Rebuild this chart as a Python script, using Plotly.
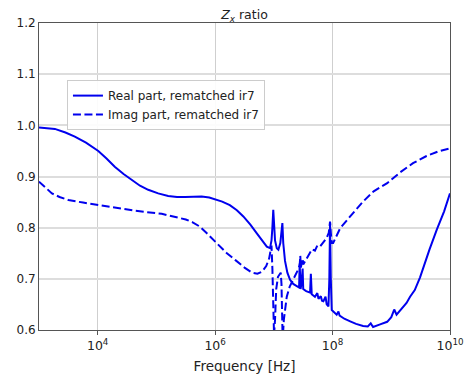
import plotly.graph_objects as go

# Frequencies are given as log10(f / Hz)
real_logf = [3.0, 3.27, 3.45, 3.61, 3.8, 4.01, 4.15, 4.29, 4.44, 4.58, 4.72, 4.86, 5.03, 5.2,
             5.35, 5.49, 5.63, 5.77, 5.9, 6.0, 6.12, 6.25, 6.37, 6.48, 6.6, 6.71, 6.8, 6.88,
             6.935, 6.96, 6.975, 6.99, 7.005, 7.02, 7.05, 7.077, 7.11, 7.13, 7.145, 7.16,
             7.19, 7.23, 7.276, 7.33, 7.39, 7.43, 7.44, 7.455, 7.47, 7.49, 7.50, 7.55, 7.617,
             7.63, 7.645, 7.70, 7.74, 7.76, 7.80, 7.82, 7.843, 7.88, 7.9, 7.93, 7.945, 7.957,
             7.97, 7.986, 8.07, 8.1, 8.12, 8.2, 8.3, 8.4, 8.52, 8.6, 8.65, 8.69, 8.81, 8.93,
             9.0, 9.05, 9.09, 9.18, 9.26, 9.32, 9.4, 9.49, 9.55, 9.65, 9.775, 9.9, 10.0]
real_vals = [0.996, 0.993, 0.986, 0.978, 0.966, 0.950, 0.935, 0.919, 0.905, 0.893, 0.882,
             0.874, 0.867, 0.862, 0.860, 0.860, 0.861, 0.861, 0.859, 0.856, 0.851, 0.844,
             0.834, 0.822, 0.806, 0.789, 0.776, 0.763, 0.760, 0.775, 0.800, 0.835, 0.805,
             0.775, 0.760, 0.757, 0.770, 0.790, 0.809, 0.770, 0.735, 0.712, 0.698, 0.690,
             0.685, 0.683, 0.730, 0.680, 0.690, 0.720, 0.680, 0.676, 0.673, 0.710, 0.670,
             0.665, 0.672, 0.661, 0.666, 0.657, 0.656, 0.665, 0.650, 0.646, 0.700, 0.810,
             0.700, 0.639, 0.630, 0.636, 0.628, 0.622, 0.617, 0.612, 0.608, 0.607, 0.613,
             0.606, 0.611, 0.616, 0.625, 0.640, 0.630, 0.642, 0.653, 0.665, 0.678, 0.703,
             0.725, 0.757, 0.796, 0.832, 0.867]

imag_logf = [3.0, 3.1, 3.22, 3.35, 3.5, 3.75, 4.01, 4.3, 4.64, 5.09, 5.32, 5.5, 5.61, 5.74,
             5.85, 5.97, 6.08, 6.2, 6.34, 6.5, 6.63, 6.72, 6.80, 6.87, 6.92, 6.96, 6.975,
             6.99, 7.003, 7.02, 7.04, 7.07, 7.117, 7.13, 7.14, 7.15, 7.17, 7.22, 7.27, 7.33,
             7.40, 7.44, 7.45, 7.46, 7.49, 7.5, 7.56, 7.617, 7.65, 7.70, 7.74, 7.787, 7.85,
             7.90, 7.935, 7.957, 7.97, 7.986, 8.01, 8.07, 8.13, 8.30, 8.52, 8.7, 8.93, 9.15,
             9.37, 9.6, 9.8, 10.0]
imag_vals = [0.890, 0.879, 0.867, 0.860, 0.854, 0.849, 0.844, 0.839, 0.833, 0.827, 0.821,
             0.816, 0.811, 0.802, 0.790, 0.776, 0.763, 0.750, 0.737, 0.722, 0.712, 0.710,
             0.714, 0.725, 0.740, 0.765, 0.720, 0.640, 0.590, 0.620, 0.680, 0.704, 0.712,
             0.690, 0.630, 0.580, 0.620, 0.665, 0.685, 0.698, 0.715, 0.727, 0.745, 0.722,
             0.740, 0.728, 0.740, 0.750, 0.758, 0.755, 0.765, 0.763, 0.772, 0.780, 0.790,
             0.812, 0.790, 0.770, 0.770, 0.785, 0.799, 0.822, 0.851, 0.871, 0.887, 0.908,
             0.926, 0.940, 0.949, 0.955]

real_freq = [10 ** e for e in real_logf]
imag_freq = [10 ** e for e in imag_logf]

real_name = "Real part, rematched ir7"
imag_name = "Imag part, rematched ir7"
x_tickvals = [1e4, 1e6, 1e8, 1e10]
x_ticktext = ["10<sup>4</sup>", "10<sup>6</sup>", "10<sup>8</sup>", "10<sup>10</sup>"]
y_tickvals = [0.6, 0.7, 0.8, 0.9, 1.0, 1.1, 1.2]
y_ticktext = ["0.6", "0.7", "0.8", "0.9", "1.0", "1.1", "1.2"]

blue = "#0000ee"
fig = go.Figure()
fig.add_trace(go.Scatter(x=real_freq, y=real_vals, mode="lines", name=real_name,
                         line=dict(color=blue, width=2)))
fig.add_trace(go.Scatter(x=imag_freq, y=imag_vals, mode="lines", name=imag_name,
                         line=dict(color=blue, width=2, dash="8px,3.5px")))

font = "DejaVu Sans, Liberation Sans, sans-serif"
fig.update_layout(
    width=467, height=375,
    margin=dict(l=39, r=17, t=23, b=45, autoexpand=False),
    paper_bgcolor="white", plot_bgcolor="white",
    font=dict(family=font, size=12, color="#222"),
    title=dict(text="<i>Z<sub>x</sub></i> ratio", x=0.5, xref="paper", xanchor="center",
               y=1, yref="paper", yanchor="bottom", pad=dict(b=4),
               font=dict(size=12.5, color="#222")),
    showlegend=True,
    legend=dict(x=0.068, y=0.814, xanchor="left", yanchor="top",
                bgcolor="rgba(255,255,255,0.9)", bordercolor="#cccccc", borderwidth=1,
                font=dict(size=12, color="#222"), tracegroupgap=0, itemwidth=30),
)
fig.update_xaxes(type="log", range=[3, 10], tickvals=x_tickvals, ticktext=x_ticktext,
                 automargin=False, tickfont=dict(size=12.5),
                 showgrid=True, gridcolor="#cfcfcf", gridwidth=1,
                 showline=True, linecolor="#555", linewidth=1, mirror=True,
                 ticks="outside", ticklen=4, tickcolor="#555",
                 title=dict(text="Frequency [Hz]", font=dict(size=13.5), standoff=9),
                 zeroline=False)
fig.update_yaxes(range=[0.6, 1.2], tickvals=y_tickvals, ticktext=y_ticktext,
                 automargin=False,
                 showgrid=True, gridcolor="#dddddd", gridwidth=1.5,
                 showline=True, linecolor="#555", linewidth=1, mirror=True,
                 ticks="", zeroline=False)

fig.write_html("out.html", config={"displayModeBar": False})
